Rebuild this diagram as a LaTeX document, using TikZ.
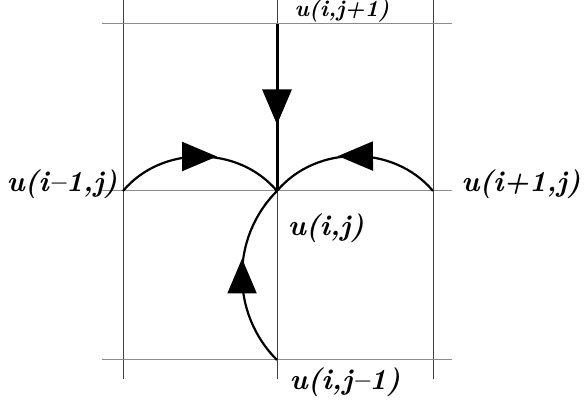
\documentclass[tikz,border=0pt]{standalone}
\usetikzlibrary{arrows.meta,decorations.markings}
\begin{document}
\begin{tikzpicture}[x=1pt,y=1pt,
  gridv/.style={draw=black!75,line width=1pt},
  gridh/.style={draw=black!45,line width=1pt},
  flow/.style={line width=2.2pt,postaction={decorate},
    decoration={markings,mark=at position 0.5 with {\arrow[xshift=17pt]{Triangle[length=35pt,width=29pt]}}}},
  lbl/.style={font=\fontsize{29}{32}\selectfont\bfseries\itshape,inner sep=0pt}]
\useasboundingbox (0,0) rectangle (587,404);
% grid points
\coordinate (L) at (123,213);
\coordinate (C) at (277,213);
\coordinate (R) at (433,213);
\coordinate (T) at (277,380);
\coordinate (B) at (277,44);
% grid
\draw[gridv] (123,404) -- (123,25);
\draw[gridv] (277,404) -- (277,25);
\draw[gridv] (433,404) -- (433,25);
\draw[gridh] (102,380) -- (452,380);
\draw[gridh] (102,213) -- (452,213);
\draw[gridh] (102,44) -- (452,44);
% connectors
\draw[flow,line width=3pt] (T) -- (C);
\draw[flow] (L) to[out=50,in=130] (C);
\draw[flow] (R) to[out=130,in=50] (C);
\draw[flow] (B) to[out=135,in=225] (C);
% labels
\node[lbl] (lL) at (62,220) {u(i--1,j)};
\node[lbl] (lR) at (521,220) {u(i+1,j)};
\node[lbl] (lC) at (326,176) {u(i,j)};
\node[lbl] (lB) at (345,22) {u(i,j--1)};
\node[inner sep=0pt,anchor=base,font=\fontsize{23}{26}\selectfont\bfseries\itshape] (lT) at (342,387) {u(i,j+1)};
\end{tikzpicture}
\end{document}
